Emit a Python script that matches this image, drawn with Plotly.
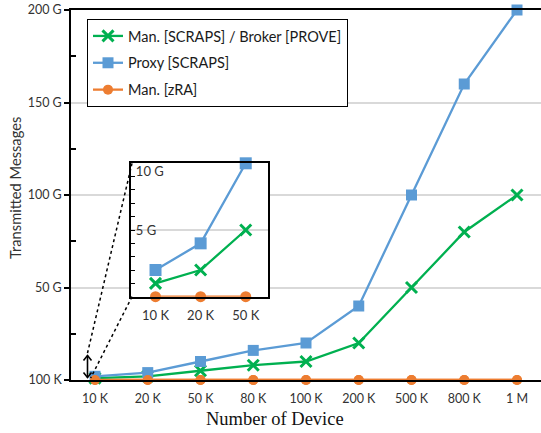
import plotly.graph_objects as go

categories = ["10 K", "20 K", "50 K", "80 K", "100 K", "200 K", "500 K", "800 K", "1 M"]
man_scraps = [1, 2, 5, 8, 10, 20, 50, 80, 100]        # G messages
proxy_scraps = [2, 4, 10, 16, 20, 40, 100, 160, 200]  # G messages
man_zra = [0.0001] * 9                                # ~100 K messages

inset_categories = categories[:3]
inset_man_scraps = man_scraps[:3]
inset_proxy = proxy_scraps[:3]
inset_zra = man_zra[:3]

y_tickvals = [0, 50, 100, 150, 200]
y_ticktext = ["100 K", "50 G", "100 G", "150 G", "200 G"]
inset_tickvals = [5, 10]
inset_ticktext = ["5 G", "<br>10 G"]

GREEN = "#00B050"
BLUE = "#5B9BD5"
ORANGE = "#ED7D31"
SANS = "Lato, 'Open Sans', sans-serif"

fig = go.Figure()

def add_series(x, y, name, color, symbol, size, xa, ya, show, lw=2.3):
    marker = dict(symbol=symbol, size=size, color=color)
    if symbol == "x-thin":
        marker["line"] = dict(width=3, color=color)
    fig.add_trace(go.Scatter(
        x=x, y=y, name=name, mode="lines+markers",
        line=dict(color=color, width=lw), marker=marker,
        xaxis=xa, yaxis=ya, showlegend=show, legendgroup=name,
        cliponaxis=False,
    ))

add_series(categories, man_zra, "Man. [zRA]", ORANGE, "circle", 10, "x", "y", False)
add_series(categories, man_scraps, "Man. [SCRAPS] / Broker [PROVE]", GREEN, "x-thin", 11, "x", "y", True)
add_series(categories, proxy_scraps, "Proxy [SCRAPS]", BLUE, "square", 11, "x", "y", True)
add_series(categories, man_zra, "Man. [zRA]", ORANGE, "circle", 10, "x", "y", True)

add_series(inset_categories, inset_zra, "i_zra", ORANGE, "circle", 11, "x2", "y2", False)
add_series(inset_categories, inset_man_scraps, "i_man", GREEN, "x-thin", 11, "x2", "y2", False)
add_series(inset_categories, inset_proxy, "i_proxy", BLUE, "square", 12, "x2", "y2", False)

L, R, T, B = 71, 0, 10, 53
W, H = 541, 433
pw, ph = W - L - R, H - T - B

def px(x):
    return (x - L) / pw

def py(y):
    return (H - B - y) / ph

shapes = [
    dict(type="line", xref="paper", yref="paper", x0=px(132), y0=py(163.3), x1=px(86.7), y1=py(356.5),
         line=dict(color="black", width=1.5, dash="dot")),
    dict(type="line", xref="paper", yref="paper", x0=px(132), y0=py(296.7), x1=px(90.7), y1=py(378),
         line=dict(color="black", width=1.5, dash="dot")),
    dict(type="line", xref="paper", yref="paper", x0=px(87.5), y0=py(355.5), x1=px(87.5), y1=py(377.5),
         line=dict(color="black", width=1.6)),
    dict(type="path", xref="paper", yref="paper",
         path=f"M {px(83.5)},{py(360.5)} L {px(87.5)},{py(355.5)} L {px(91.5)},{py(360.5)}",
         line=dict(color="black", width=1.6)),
    dict(type="path", xref="paper", yref="paper",
         path=f"M {px(83.5)},{py(372.5)} L {px(87.5)},{py(377.5)} L {px(91.5)},{py(372.5)}",
         line=dict(color="black", width=1.6)),
]

fig.update_layout(
    width=W, height=H,
    margin=dict(l=L, r=R, t=T, b=B),
    paper_bgcolor="white", plot_bgcolor="white",
    font=dict(family=SANS, size=12, color="#404040"),
    shapes=shapes,
    legend=dict(
        x=px(87), y=py(19), xanchor="left", yanchor="top",
        bgcolor="white", bordercolor="black", borderwidth=1,
        font=dict(family=SANS, size=14.5, color="#1a1a1a"),
        tracegroupgap=5, traceorder="grouped",
    ),
    xaxis=dict(
        type="category", categoryorder="array", categoryarray=categories,
        range=[-0.455, 8.455], showline=True, linecolor="black", linewidth=1.5,
        mirror=True, ticks="", showgrid=False, zeroline=False, ticklabelstandoff=6,
        tickfont=dict(family=SANS, size=12.5, color="#333"),
    ),
    yaxis=dict(
        range=[0, 200], tickmode="array", tickvals=y_tickvals, ticktext=y_ticktext,
        showline=True, linecolor="black", linewidth=1.5,
        ticks="outside", ticklen=5, tickwidth=1.5, tickcolor="black",
        showgrid=True, gridcolor="#D9D9D9", gridwidth=1.5, zeroline=False,
        tickfont=dict(family=SANS, size=12.5, color="#333"),
        minor=dict(tickmode="array", tickvals=[25, 75, 125, 175], ticks="inside",
                   ticklen=5, tickwidth=1.5, tickcolor="black", showgrid=False),
    ),
    xaxis2=dict(
        domain=[px(130.7), px(268.3)], anchor="y2",
        type="category", categoryorder="array", categoryarray=inset_categories,
        range=[-0.55, 2.5], showline=True, linecolor="black", linewidth=1.5,
        mirror=True, ticks="", showgrid=False, zeroline=False, ticklabelstandoff=6,
        tickfont=dict(family=SANS, size=13, color="#333"),
    ),
    yaxis2=dict(
        domain=[py(296.7), py(163.3)], anchor="x2",
        range=[0, 10], tickmode="array", tickvals=inset_tickvals, ticktext=inset_ticktext,
        showline=True, linecolor="black", linewidth=1.5, mirror=True,
        ticks="inside", ticklen=5, tickwidth=1.2, tickcolor="black",
        ticklabelposition="inside", ticklabeloverflow="allow",
        showgrid=True, gridcolor="#D9D9D9", gridwidth=1.5, zeroline=False,
        tickfont=dict(family=SANS, size=13, color="#333"),
        minor=dict(dtick=1, tick0=0, ticks="inside", ticklen=5, tickwidth=1.2,
                   tickcolor="black", showgrid=False),
    ),
    annotations=[
        dict(text="Number of Device", xref="paper", yref="paper", x=px(275), y=py(419),
             xanchor="center", yanchor="middle", showarrow=False,
             font=dict(family="'Liberation Serif', 'Times New Roman', serif", size=18.5, color="#111")),
        dict(text="Transmitted Messages", xref="paper", yref="paper", x=px(15), y=py(188),
             xanchor="center", yanchor="middle", showarrow=False, textangle=-90,
             font=dict(family=SANS, size=14.7, color="#333")),
    ],
)

fig.write_html("out.html")
